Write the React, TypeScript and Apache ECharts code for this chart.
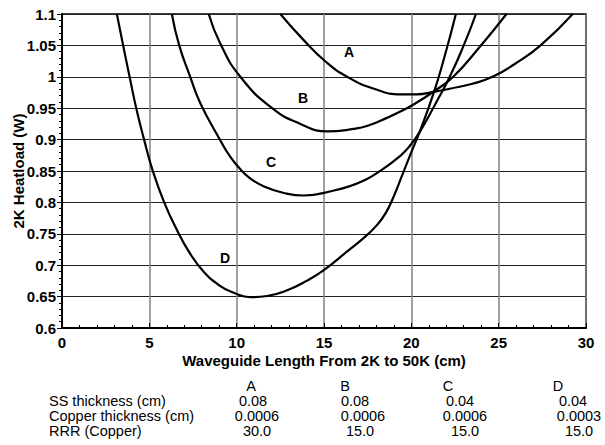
import React, { useEffect, useRef } from "react";
import * as echarts from "echarts";

// Curves: [waveguide length (cm), 2K heatload (W)]
const curveA = [
  [12.5, 1.1], [13.85, 1.058], [15.1, 1.024], [16.33, 1.0], [17.86, 0.981],
  [19.4, 0.972], [20.3, 0.972], [21.3, 0.976], [22.2, 0.981], [23.5, 0.989],
  [24.65, 1.0], [25.9, 1.02], [27.4, 1.05], [29.24, 1.1],
];
const curveB = [
  [8.4, 1.1], [9.06, 1.053], [10.21, 1.0], [12.03, 0.95], [13.65, 0.925],
  [15.19, 0.913], [16.7, 0.917], [17.5, 0.922], [18.63, 0.935], [19.4, 0.945],
  [20.2, 0.957], [21.3, 0.977], [22.4, 1.0], [23.9, 1.047], [25.45, 1.1],
];
const curveC = [
  [6.29, 1.1], [6.71, 1.05], [7.34, 1.0], [7.92, 0.958], [9.06, 0.899],
  [9.6, 0.874], [10.2, 0.853], [10.79, 0.838], [11.6, 0.825], [12.7, 0.815],
  [13.84, 0.811], [15.57, 0.819], [16.5, 0.826], [17.29, 0.835], [18.05, 0.847],
  [19.4, 0.875], [20.0, 0.893], [20.5, 0.913], [21.4, 0.958], [22.2, 1.0],
  [23.0, 1.05], [23.7, 1.1],
];
const curveD = [
  [3.14, 1.1], [3.5, 1.05], [3.87, 1.0], [4.25, 0.95], [4.7, 0.9], [5.2, 0.85],
  [5.85, 0.8], [6.6, 0.755], [7.3, 0.72], [8.1, 0.69], [9.0, 0.668],
  [9.83, 0.656], [10.79, 0.649], [11.74, 0.651], [12.89, 0.66], [14.0, 0.675],
  [15.03, 0.693], [16.33, 0.722], [17.38, 0.746], [18.0, 0.763], [18.53, 0.783],
  [19.0, 0.81], [19.5, 0.845], [20.0, 0.88], [20.5, 0.914], [21.3, 0.976],
  [21.9, 1.032], [22.55, 1.1],
];
const curveNames = ["A", "B", "C", "D"];

// Table below the chart
const tableRowLabels = ["SS thickness (cm)", "Copper thickness (cm)", "RRR (Copper)"];
const ssThickness = ["0.08", "0.08", "0.04", "0.04"];
const copperThickness = ["0.0006", "0.0006", "0.0006", "0.0003"];
const rrrCopper = ["30.0", "15.0", "15.0", "15.0"];

const FONT = "'Liberation Sans', Arial, Helvetica, sans-serif";

export default function App() {
  const ref = useRef<HTMLDivElement>(null);
  useEffect(() => {
    if (!ref.current) return;
    const chart = echarts.init(ref.current, null, { renderer: "svg" });

    const curves = [curveA, curveB, curveC, curveD];
    const labelPos = [
      [349, 52],
      [303, 98],
      [271, 162],
      [225, 258],
    ];
    const headerX = [251, 345, 448, 558];
    const valueX = [
      [253, 257, 257],
      [355, 363, 360],
      [460, 465, 465],
      [573, 579, 579],
    ];
    const headerY = 386;
    const rowY = [401, 416, 431];
    const rowValues = [ssThickness, copperThickness, rrrCopper];
    const tFont = `14.5px ${FONT}`;

    const graphics: any[] = [];
    curveNames.forEach((n, i) => {
      graphics.push({
        type: "text",
        x: labelPos[i][0],
        y: labelPos[i][1],
        style: {
          text: n,
          font: `bold 14px ${FONT}`,
          fill: "#000",
          align: "center",
          verticalAlign: "middle",
        },
      });
    });
    tableRowLabels.forEach((t, r) => {
      graphics.push({
        type: "text",
        x: 49,
        y: rowY[r],
        style: { text: t, font: tFont, fill: "#000", align: "left", verticalAlign: "middle" },
      });
    });
    curveNames.forEach((n, c) => {
      graphics.push({
        type: "text",
        x: headerX[c],
        y: headerY,
        style: { text: n, font: tFont, fill: "#000", align: "center", verticalAlign: "middle" },
      });
      rowValues.forEach((vals, r) => {
        graphics.push({
          type: "text",
          x: valueX[c][r],
          y: rowY[r],
          style: { text: vals[c], font: tFont, fill: "#000", align: "center", verticalAlign: "middle" },
        });
      });
    });

    chart.setOption({
      animation: false,
      grid: {
        left: 62,
        top: 14,
        right: 19,
        bottom: 117,
        show: true,
        borderColor: "#000",
        borderWidth: 1.5,
        containLabel: false,
        outerBoundsMode: "none",
      },
      xAxis: {
        type: "value",
        min: 0,
        max: 30,
        interval: 5,
        name: "Waveguide Length From 2K to 50K (cm)",
        nameLocation: "middle",
        nameGap: 25,
        nameMoveOverlap: false,
        nameTextStyle: { fontFamily: FONT, fontWeight: "bold", fontSize: 15, color: "#000" },
        axisLine: { show: true, lineStyle: { color: "#000", width: 2 } },
        axisTick: { show: true, inside: true, length: 5, lineStyle: { color: "#000", width: 1 } },
        minorTick: { show: true, splitNumber: 5, length: 3, lineStyle: { color: "#000", width: 1 } },
        splitLine: { show: true, lineStyle: { color: "#808080", width: 1.5 } },
        axisLabel: { fontFamily: FONT, fontWeight: "bold", fontSize: 15, color: "#000", margin: 7 },
      },
      yAxis: {
        type: "value",
        min: 0.6,
        max: 1.1,
        interval: 0.05,
        name: "2K Heatload (W)",
        nameLocation: "middle",
        nameGap: 36,
        nameMoveOverlap: false,
        nameTextStyle: { fontFamily: FONT, fontWeight: "bold", fontSize: 15, color: "#000" },
        axisLine: { show: true, lineStyle: { color: "#000", width: 2 } },
        axisTick: { show: true, inside: false, length: 5, lineStyle: { color: "#000", width: 1 } },
        minorTick: { show: true, splitNumber: 5, length: 3, lineStyle: { color: "#000", width: 1 } },
        splitLine: { show: true, lineStyle: { color: "#222", width: 1 } },
        axisLabel: {
          fontFamily: FONT,
          fontWeight: "bold",
          fontSize: 15,
          color: "#000",
          margin: 6,
          formatter: (v: number) => String(parseFloat(v.toFixed(2))),
        },
      },
      series: curves.map((d, i) => ({
        name: curveNames[i],
        type: "line",
        data: d,
        smooth: 0.5,
        symbol: "none",
        showSymbol: false,
        clip: true,
        lineStyle: { color: "#000", width: 2.2 },
      })),
      graphic: graphics,
    });
    return () => chart.dispose();
  }, []);

  return (
    <div
      ref={ref}
      style={{ position: "fixed", left: 0, top: 0, width: 605, height: 445, background: "#fff" }}
    />
  );
}
